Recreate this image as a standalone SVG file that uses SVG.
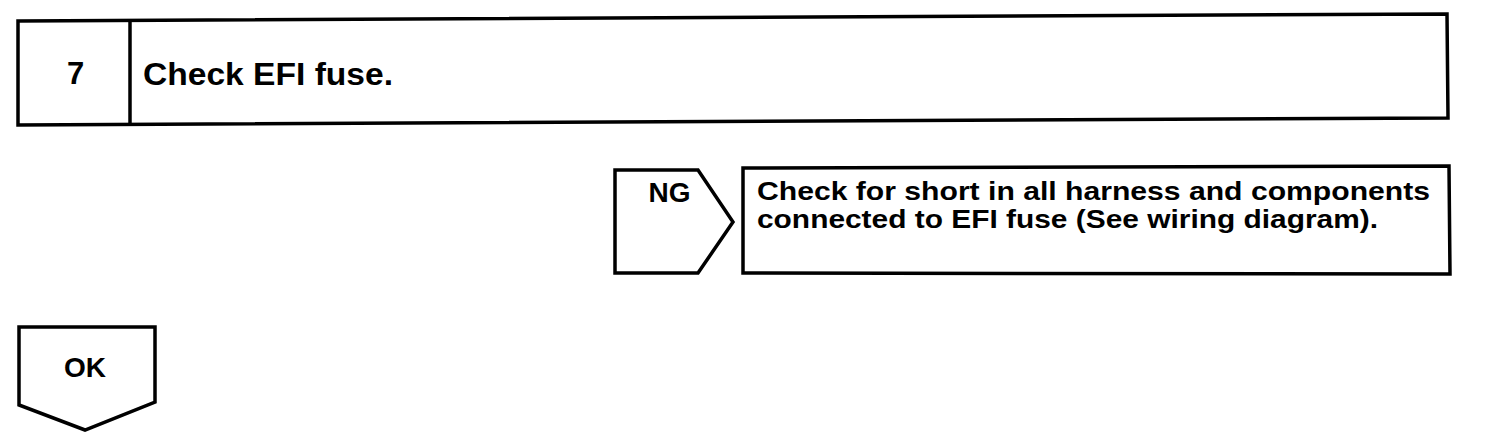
<svg xmlns="http://www.w3.org/2000/svg" width="1504" height="442" viewBox="0 0 1504 442">
<style>
.box{fill:#fff;stroke:#000;stroke-width:3.5;stroke-linejoin:miter}
.t{font-family:"Liberation Sans",Arial,sans-serif;font-weight:bold;fill:#000}
</style>
<rect width="1504" height="442" fill="#fff"/>
<g id="step7">
<polygon class="box" points="18,21 1447,14 1448,118 18,125"/>
<line x1="130" y1="20" x2="130" y2="125" stroke="#000" stroke-width="3.5"/>
<text class="t" x="75.5" y="84" font-size="31" text-anchor="middle">7</text>
<text class="t" x="143" y="85" font-size="31" textLength="250" lengthAdjust="spacingAndGlyphs">Check EFI fuse.</text>
</g>
<g id="ng">
<polygon class="box" points="615,170 698,170 733,222 698,273 615,273"/>
<text class="t" x="669.5" y="202" font-size="28" text-anchor="middle">NG</text>
</g>
<g id="action">
<polygon class="box" points="743,168 1449,166 1450,274 743,273"/>
<text class="t" x="757" y="200" font-size="26" textLength="673" lengthAdjust="spacingAndGlyphs">Check for short in all harness and components</text>
<text class="t" x="757" y="228" font-size="26" textLength="621" lengthAdjust="spacingAndGlyphs">connected to EFI fuse (See wiring diagram).</text>
</g>
<g id="ok">
<polygon class="box" points="19,327 155,327 155,402 85,430 19,405"/>
<text class="t" x="85" y="377" font-size="28" text-anchor="middle">OK</text>
</g>
<g id="connectors"></g>
</svg>
